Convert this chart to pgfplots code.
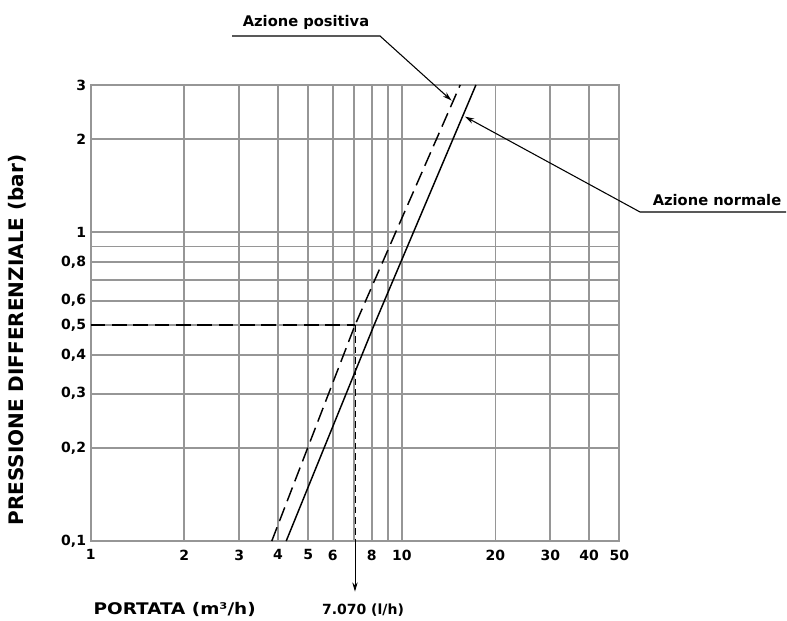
\documentclass[border=0pt]{standalone}
\usepackage{fontspec}
\setmainfont{DejaVu Sans}
\newfontfamily\widefont[FakeStretch=1.15]{DejaVu Sans}
\usepackage{pgfplots}
\pgfplotsset{compat=1.18}
\usetikzlibrary{arrows.meta}
\definecolor{gridgray}{RGB}{150,150,150}
\begin{document}
\begin{tikzpicture}
\path[use as bounding box] (0,0) rectangle (590.25pt,465pt);
\begin{axis}[
  at={(68.03pt,59.25pt)}, anchor=south west,
  scale only axis, width=396.45pt, height=342pt,
  xmode=log, ymode=log, xmin=1, xmax=50, ymin=0.1, ymax=3,
  xtick={1,2,3,4,5,6,8,10,20,30,40,50},
  xticklabels={1,2,3,4,5,6,8,10,20,30,40,50},
  minor xtick={7,9},
  ytick={0.1,0.2,0.3,0.4,0.5,0.6,0.8,1,2,3},
  yticklabels={{0,1},{0,2},{0,3},{0,4},{0,5},{0,6},{0,8},1,2,3},
  minor ytick={0.7,0.9},
  grid=both,
  major grid style={gridgray, line width=1.35pt},
  minor grid style={gridgray, line width=1.35pt},
  axis line style={gridgray, line width=1.35pt},
  major tick length=0pt, minor tick length=0pt,
  tick label style={font=\fontsize{10.5}{12}\selectfont\bfseries},
  /pgf/number format/assume math mode=true,
  xticklabel style={yshift=-3pt},
  clip=false,
]
% Azione normale (solid)
\addplot[black, line width=1.1pt] coordinates {(4.25,0.1) (8.14,0.5) (17.3,3)};
% Azione positiva (dashed)
\addplot[black, line width=1.1pt, dash pattern=on 11pt off 5pt] coordinates {(3.82,0.1) (7.07,0.5) (15.4,3)};
% reading lines
\addplot[black, line width=1.8pt, dash pattern=on 11pt off 5pt] coordinates {(1,0.5) (7.07,0.5)};
\addplot[black, line width=0.7pt, dash pattern=on 5pt off 3pt] coordinates {(7.07,0.5) (7.07,0.1)};
\coordinate (arrTop) at (axis cs:7.07,0.1);
\coordinate (tipP) at (axis cs:14.45,2.67);
\coordinate (tipN) at (axis cs:15.95,2.37);
\end{axis}
\draw[black, line width=0.7pt, -{Stealth[length=7pt,width=4pt]}] (arrTop) -- ([yshift=-38pt]arrTop);
\node[font=\fontsize{10.5}{12}\selectfont\bfseries] at ([xshift=6pt,yshift=-51.75pt]arrTop) {7.070 (l/h)};
\begin{scope}[x=0.75pt, y=-0.75pt, yshift=465pt]
\node[font=\fontsize{11}{13}\selectfont\bfseries] at (306,22) {Azione positiva};
\draw[black, line width=0.8pt, -{Stealth[length=7pt,width=4pt]}] (232,36) -- (380,36) -- (tipP);
\node[font=\fontsize{11}{13}\selectfont\bfseries] at (717,200) {Azione normale};
\draw[black, line width=0.8pt, -{Stealth[length=7pt,width=4pt]}] (786,212) -- (640,212) -- (tipN);
\node[rotate=90, font=\fontsize{15}{18}\selectfont\bfseries] at (17.5,340) {PRESSIONE DIFFERENZIALE (bar)};
\node[anchor=west, font=\widefont\fontsize{12}{14}\selectfont\bfseries] at (89,609) {PORTATA (m³/h)};
\end{scope}
\end{tikzpicture}
\end{document}
